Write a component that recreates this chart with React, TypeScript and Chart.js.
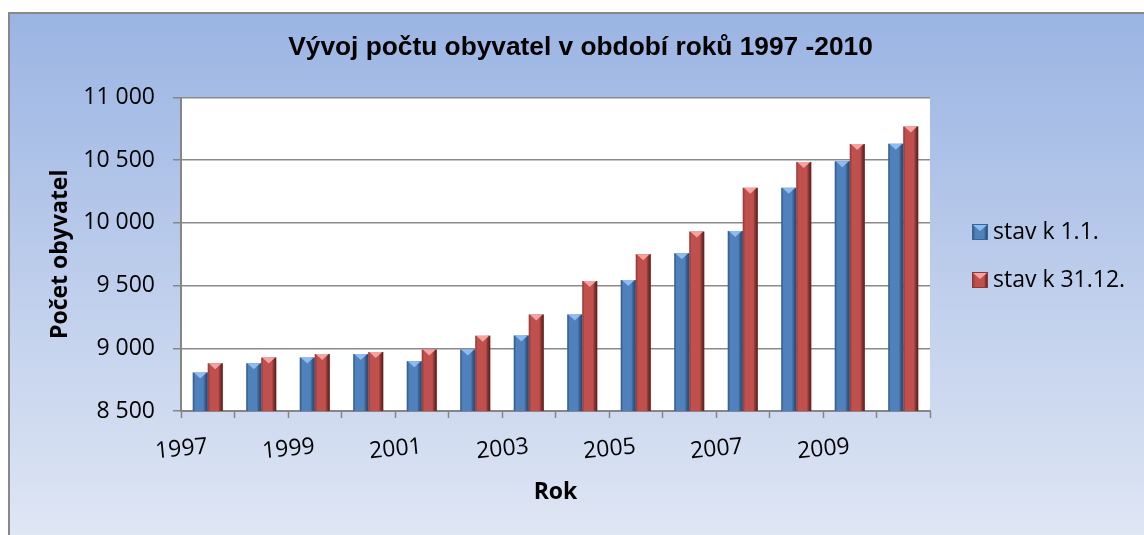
import React, { useEffect, useRef } from 'react';
import { Chart, registerables } from 'chart.js';

Chart.register(...registerables);

const years = ['1997', '1998', '1999', '2000', '2001', '2002', '2003', '2004', '2005', '2006', '2007', '2008', '2009', '2010'];
const stavStart = [8807, 8881, 8926, 8955, 8897, 8990, 9103, 9270, 9545, 9759, 9936, 10280, 10492, 10632];
const stavEnd = [8881, 8926, 8955, 8971, 8990, 9101, 9270, 9537, 9751, 9931, 10280, 10487, 10629, 10770];
const seriesLabels = ['stav k 1.1.', 'stav k 31.12.'];
const yMin = 8500;
const yMax = 11000;
const yStep = 500;
const titleText = 'Vývoj počtu obyvatel v období roků 1997 -2010';
const yTitle = 'Počet obyvatel';
const xTitle = 'Rok';

const FONT = "'Open Sans', sans-serif";
const W = 1144;
const H = 535;

const palettes = [
  { base: '#4F81BD', edgeL: 'rgba(35,65,105,0.55)', edgeR: 'rgba(30,55,95,0.75)', light: '#8DBBF2', border: '#3A6496' },
  { base: '#C0504D', edgeL: 'rgba(120,40,38,0.45)', edgeR: 'rgba(80,20,18,0.85)', light: '#F5A3A0', border: '#8C3836' },
];

function makeLegendImg(p: any) {
  const c = document.createElement('canvas');
  c.width = 16;
  c.height = 16;
  const g = c.getContext('2d')!;
  g.fillStyle = p.base;
  g.fillRect(0, 0, 16, 16);
  const gr = g.createLinearGradient(0, 0, 16, 0);
  gr.addColorStop(0, p.edgeL);
  gr.addColorStop(0.2, 'rgba(0,0,0,0)');
  gr.addColorStop(0.75, 'rgba(0,0,0,0)');
  gr.addColorStop(1, p.edgeR);
  g.fillStyle = gr;
  g.fillRect(0, 0, 16, 16);
  g.fillStyle = p.light;
  g.beginPath();
  g.moveTo(1, 1);
  g.lineTo(15, 1);
  g.lineTo(8, 7);
  g.closePath();
  g.fill();
  g.strokeStyle = p.border;
  g.lineWidth = 1;
  g.strokeRect(0.5, 0.5, 15, 15);
  return c;
}

const bgPlugin = {
  id: 'bgPlugin',
  beforeDraw(chart: any) {
    const { ctx, width, height, chartArea } = chart;
    ctx.save();
    ctx.fillStyle = '#ffffff';
    ctx.fillRect(0, 0, width, height);
    const g = ctx.createLinearGradient(0, 12, 0, height);
    g.addColorStop(0, '#9AB4E3');
    g.addColorStop(1, '#DFE6F4');
    ctx.fillStyle = g;
    ctx.fillRect(8, 12, width - 8, height - 12);
    ctx.strokeStyle = '#888888';
    ctx.lineWidth = 2;
    ctx.beginPath();
    ctx.moveTo(9, height);
    ctx.lineTo(9, 13);
    ctx.lineTo(width, 13);
    ctx.stroke();
    ctx.fillStyle = '#ffffff';
    ctx.fillRect(chartArea.left, chartArea.top, chartArea.right - chartArea.left, chartArea.bottom - chartArea.top);
    ctx.restore();
  },
};

const barDeco = {
  id: 'barDeco',
  afterDatasetsDraw(chart: any) {
    const ctx = chart.ctx;
    const area = chart.chartArea;
    chart.data.datasets.forEach((_ds: any, di: number) => {
      const meta = chart.getDatasetMeta(di);
      const p = palettes[di];
      meta.data.forEach((el: any) => {
        const { x, y, base, width } = el.getProps(['x', 'y', 'base', 'width'], true);
        const bottom = Math.min(base, area.bottom);
        const l = x - width / 2;
        const r = x + width / 2;
        ctx.save();
        ctx.beginPath();
        ctx.rect(area.left, area.top, area.right - area.left, area.bottom - area.top);
        ctx.clip();
        const g = ctx.createLinearGradient(l, 0, r, 0);
        g.addColorStop(0, p.edgeL);
        g.addColorStop(0.15, 'rgba(0,0,0,0)');
        g.addColorStop(0.7, 'rgba(0,0,0,0)');
        g.addColorStop(1, p.edgeR);
        ctx.fillStyle = g;
        ctx.fillRect(l, y, width, bottom - y);
        ctx.fillStyle = p.light;
        ctx.beginPath();
        ctx.moveTo(l + 1, y);
        ctx.lineTo(r - 1, y);
        ctx.lineTo(x, y + 6);
        ctx.closePath();
        ctx.fill();
        ctx.restore();
      });
    });
  },
};

export default function App() {
  const ref = useRef<HTMLCanvasElement | null>(null);

  useEffect(() => {
    if (!ref.current) return;
    const m = document.createElement('canvas').getContext('2d')!;
    m.font = `23px ${FONT}`;
    const textW = Math.max(...seriesLabels.map((t) => m.measureText(t).width));
    const legPad = 25;
    const pStyleW = 3;
    const legendW = legPad + pStyleW + 11.5 + textW + 10;
    const plotLeft = 181;
    const plotRight = 930;
    const padRight = W - plotRight - legendW;
    const padLeft = Math.max(0, 17 + padRight);
    const padBottom = 23;
    const legendShift = 978.5 - legPad - plotRight;

    const legendShiftPlugin = {
      id: 'legendShift',
      afterLayout(chart: any) {
        const lg = chart.legend;
        if (lg) {
          lg.left += legendShift;
          lg.right += legendShift;
        }
      },
    };

    const chart = new Chart(ref.current, {
      type: 'bar',
      data: {
        labels: years,
        datasets: [
          {
            label: seriesLabels[0],
            data: stavStart,
            backgroundColor: palettes[0].base,
            borderWidth: 0,
            pointStyle: makeLegendImg(palettes[0]) as any,
          },
          {
            label: seriesLabels[1],
            data: stavEnd,
            backgroundColor: palettes[1].base,
            borderWidth: 0,
            pointStyle: makeLegendImg(palettes[1]) as any,
          },
        ],
      },
      options: {
        responsive: false,
        animation: false,
        devicePixelRatio: 1,
        datasets: { bar: { categoryPercentage: 0.56, barPercentage: 1 } },
        layout: { padding: { left: padLeft, right: padRight, top: 0, bottom: padBottom } },
        plugins: {
          title: {
            display: true,
            text: titleText,
            color: '#000',
            font: { family: "'Liberation Sans', Arial, sans-serif", size: 26.3, weight: 'bold' },
            padding: { top: 32, bottom: 34 },
          },
          legend: {
            display: true,
            position: 'right',
            labels: {
              usePointStyle: true,
              pointStyleWidth: pStyleW,
              padding: legPad,
              color: '#000',
              font: { family: FONT, size: 23 },
            },
          },
          tooltip: { enabled: false },
        },
        scales: {
          x: {
            type: 'category',
            grid: {
              display: true,
              drawOnChartArea: false,
              drawTicks: true,
              tickLength: 7,
              tickWidth: 1.5,
              tickColor: '#868686',
              offset: true,
            },
            border: { display: true, color: '#868686', width: 2 },
            ticks: {
              autoSkip: false,
              minRotation: 5.5,
              maxRotation: 5.5,
              padding: 15,
              color: '#000',
              font: { family: FONT, size: 23 },
              callback: (_v: any, i: number) => (i % 2 === 0 ? years[i] : ''),
            },
            title: {
              display: true,
              text: xTitle,
              color: '#000',
              font: { family: FONT, size: 23, weight: 'bold' },
              padding: { top: 0, bottom: 6 },
            },
            afterFit: (s: any) => {
              s.height = H - padBottom - 411;
            },
          },
          y: {
            min: yMin,
            max: yMax,
            ticks: {
              stepSize: yStep,
              padding: 18,
              color: '#000',
              font: { family: FONT, size: 23 },
              callback: (v: any) => String(v).replace(/\B(?=(\d{3})+(?!\d))/g, ' '),
            },
            grid: {
              color: '#8A8A8A',
              lineWidth: 1.5,
              drawTicks: true,
              tickLength: 8,
              tickColor: '#868686',
            },
            border: { display: true, color: '#868686', width: 2 },
            title: {
              display: true,
              text: yTitle,
              color: '#000',
              font: { family: FONT, size: 23, weight: 'bold' },
              padding: { top: 60 - 13.8 - padLeft, bottom: 0 },
            },
            afterFit: (s: any) => {
              s.width = plotLeft - padLeft;
            },
          },
        },
      } as any,
      plugins: [bgPlugin, barDeco, legendShiftPlugin],
    });
    return () => chart.destroy();
  }, []);

  return (
    <div style={{ position: 'absolute', left: 0, top: 0, width: W, height: H }}>
      <canvas ref={ref} width={W} height={H} style={{ display: 'block' }} />
    </div>
  );
}
